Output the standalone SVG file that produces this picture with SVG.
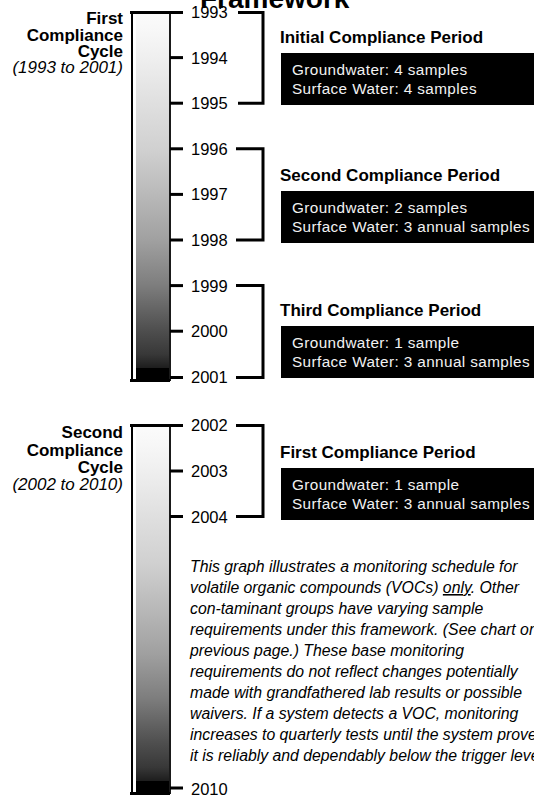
<svg xmlns="http://www.w3.org/2000/svg" width="534" height="799" viewBox="0 0 534 799">
<defs>
<linearGradient id="barGrad" x1="0" y1="0" x2="0" y2="1">
<stop offset="0" stop-color="#fbfbfb"/>
<stop offset="0.05" stop-color="#f7f7f7"/>
<stop offset="0.13" stop-color="#eeeeee"/>
<stop offset="0.24" stop-color="#e0e0e0"/>
<stop offset="0.375" stop-color="#d0d0d0"/>
<stop offset="0.5" stop-color="#b8b8b8"/>
<stop offset="0.62" stop-color="#a0a0a0"/>
<stop offset="0.74" stop-color="#7e7e7e"/>
<stop offset="0.86" stop-color="#505050"/>
<stop offset="0.93" stop-color="#383838"/>
<stop offset="0.966" stop-color="#1e1e1e"/>
<stop offset="0.967" stop-color="#000000"/>
<stop offset="1" stop-color="#000000"/>
</linearGradient>
</defs>
<style>
text{font-family:"Liberation Sans",Arial,sans-serif;fill:#000}
.title{font-size:28px;font-weight:bold}
.cyc{font-size:17px;font-weight:bold;text-anchor:end}
.cycit{font-size:17px;font-style:italic;text-anchor:end}
.yr{font-size:16.5px}
.head{font-size:17px;font-weight:bold}
.box{fill:#000}
.bt{font-size:15.3px;fill:#f2f2f2;letter-spacing:0.4px}
.para{font-size:15.8px;font-style:italic}
.frame{stroke:#000;stroke-width:2;fill:none}
.rb{stroke:#1a1a1a;stroke-width:2;fill:none}
.tk{stroke:#000;stroke-width:3;fill:none}
.br{stroke:#000;stroke-width:3;fill:none}
</style>

<text class="title" x="200" y="7.5">Framework</text>

<g id="cycle1-label">
<text class="cyc" x="123" y="24">First</text>
<text class="cyc" x="123" y="41">Compliance</text>
<text class="cyc" x="123" y="57">Cycle</text>
<text class="cycit" x="123" y="73">(1993 to 2001)</text>
</g>

<g id="cycle1-bar">
<rect x="136" y="13" width="33" height="367" fill="url(#barGrad)"/>
<line class="frame" x1="132" y1="12" x2="132" y2="379"/>
<line class="rb" x1="170" y1="12" x2="170" y2="381"/>
<line class="tk" x1="130" y1="12.5" x2="183" y2="12.5"/>
<line class="tk" x1="130" y1="380.5" x2="170" y2="380.5"/>
<line class="tk" x1="170" y1="57.6" x2="183" y2="57.6"/>
<line class="tk" x1="170" y1="103.2" x2="183" y2="103.2"/>
<line class="tk" x1="170" y1="148.8" x2="183" y2="148.8"/>
<line class="tk" x1="170" y1="194.4" x2="183" y2="194.4"/>
<line class="tk" x1="170" y1="240" x2="183" y2="240"/>
<line class="tk" x1="170" y1="285.6" x2="183" y2="285.6"/>
<line class="tk" x1="170" y1="331.2" x2="183" y2="331.2"/>
<line class="tk" x1="170" y1="377.5" x2="183" y2="377.5"/>
<text class="yr" x="191" y="18">1993</text>
<text class="yr" x="191" y="63.5">1994</text>
<text class="yr" x="191" y="109">1995</text>
<text class="yr" x="191" y="154.5">1996</text>
<text class="yr" x="191" y="200">1997</text>
<text class="yr" x="191" y="246">1998</text>
<text class="yr" x="191" y="291.5">1999</text>
<text class="yr" x="191" y="337">2000</text>
<text class="yr" x="191" y="383">2001</text>
</g>

<g id="cycle2-label">
<text class="cyc" x="123" y="438">Second</text>
<text class="cyc" x="123" y="456">Compliance</text>
<text class="cyc" x="123" y="473">Cycle</text>
<text class="cycit" x="123" y="490">(2002 to 2010)</text>
</g>

<g id="cycle2-bar">
<rect x="136" y="426" width="33" height="367" fill="url(#barGrad)"/>
<line class="frame" x1="132" y1="425" x2="132" y2="792"/>
<line class="rb" x1="170" y1="425" x2="170" y2="794"/>
<line class="tk" x1="130" y1="425.5" x2="183" y2="425.5"/>
<line class="tk" x1="130" y1="793.5" x2="170" y2="793.5"/>
<line class="tk" x1="170" y1="471" x2="183" y2="471"/>
<line class="tk" x1="170" y1="516.5" x2="183" y2="516.5"/>
<line class="tk" x1="170" y1="788" x2="183" y2="788"/>
<text class="yr" x="191" y="431">2002</text>
<text class="yr" x="191" y="477">2003</text>
<text class="yr" x="191" y="522.5">2004</text>
<text class="yr" x="191" y="794.5">2010</text>
</g>

<g id="connectors">
<polyline class="br" points="238,12.5 263,12.5 263,103.2 238,103.2"/>
<polyline class="br" points="236,148.8 263,148.8 263,240 236,240"/>
<polyline class="br" points="236,285.6 263,285.6 263,377.5 236,377.5"/>
<polyline class="br" points="236,425.5 263,425.5 263,516.5 236,516.5"/>
</g>

<g id="period1">
<text class="head" x="280" y="43">Initial Compliance Period</text>
<rect class="box" x="281" y="53" width="253" height="52"/>
<text class="bt" x="292" y="75">Groundwater:  4 samples</text>
<text class="bt" x="292" y="94">Surface Water: 4 samples</text>
</g>

<g id="period2">
<text class="head" x="280" y="181">Second Compliance Period</text>
<rect class="box" x="281" y="191" width="253" height="52"/>
<text class="bt" x="292" y="213">Groundwater:  2 samples</text>
<text class="bt" x="292" y="232">Surface Water: 3 annual samples</text>
</g>

<g id="period3">
<text class="head" x="280" y="316">Third Compliance Period</text>
<rect class="box" x="281" y="326" width="253" height="52"/>
<text class="bt" x="292" y="348">Groundwater:  1 sample</text>
<text class="bt" x="292" y="367">Surface Water: 3 annual samples</text>
</g>

<g id="period4">
<text class="head" x="280" y="458">First Compliance Period</text>
<rect class="box" x="281" y="468" width="253" height="52"/>
<text class="bt" x="292" y="490">Groundwater:  1 sample</text>
<text class="bt" x="292" y="509">Surface Water: 3 annual samples</text>
</g>

<g id="note">
<text class="para" x="190" y="572">This graph illustrates a monitoring schedule for</text>
<text class="para" x="190" y="593">volatile organic compounds (VOCs) <tspan text-decoration="underline">only</tspan>. Other</text>
<text class="para" x="190" y="614">con-taminant groups have varying sample</text>
<text class="para" x="190" y="635">requirements under this framework. (See chart on</text>
<text class="para" x="190" y="656">previous page.) These base monitoring</text>
<text class="para" x="190" y="677">requirements do not reflect changes potentially</text>
<text class="para" x="190" y="698">made with grandfathered lab results or possible</text>
<text class="para" x="190" y="719">waivers. If a system detects a VOC, monitoring</text>
<text class="para" x="190" y="740">increases to quarterly tests until the system proves</text>
<text class="para" x="190" y="761">it is reliably and dependably below the trigger level.</text>
</g>
</svg>
